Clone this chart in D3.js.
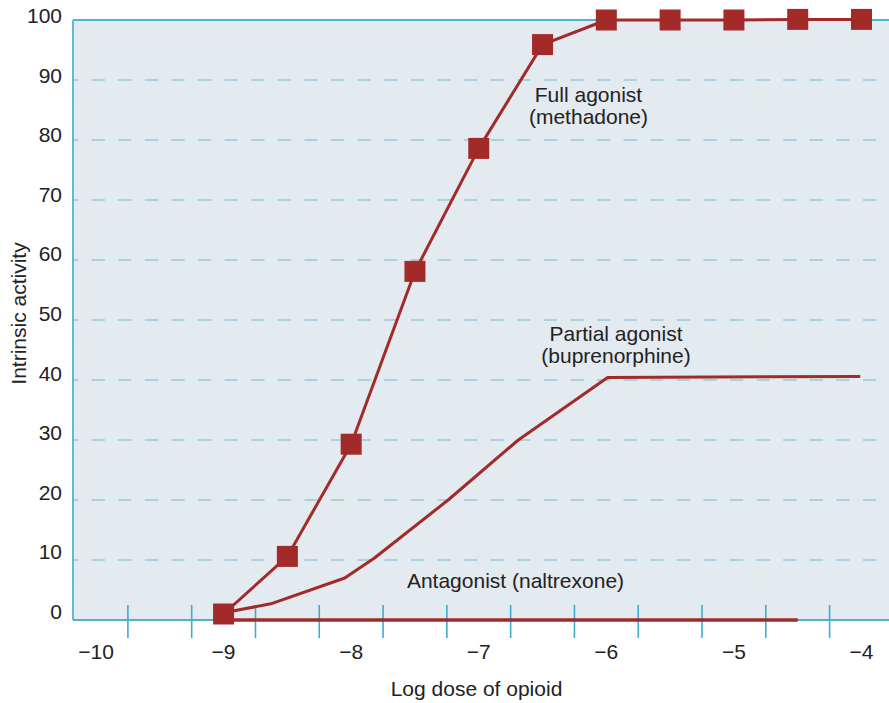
<!DOCTYPE html>
<html>
<head>
<meta charset="utf-8">
<script src="https://cdn.jsdelivr.net/npm/d3@7"></script>
<style>
  body { margin: 0; background: #fff; }
  svg { display: block; font-family: "Liberation Sans", Arial, Helvetica, sans-serif; }
</style>
</head>
<body>
<svg></svg>
<script>
var w = 889;
var h = 703;

// values
var fullDose = [-9, -8.5, -8, -7.5, -7, -6.5, -6, -5.5, -5, -4.5, -4];
var fullActivity = [1, 10.6, 29.3, 58.1, 78.6, 95.9, 100, 100, 100, 100.1, 100.1];

var partialDose = [-9, -8.63, -8.05, -7.82, -7.24, -6.69, -5.99, -4.01];
var partialActivity = [1.2, 2.7, 7, 10.3, 20, 30, 40.4, 40.6];

var antagonistDose = [-9, -4.5];
var antagonistActivity = [0, 0];

var xTickLabels = [-10, -9, -8, -7, -6, -5, -4];
var xTickMarks = [-9.75, -9.25, -8.75, -8.25, -7.75, -7.25, -6.75, -6.25, -5.75, -5.25, -4.75, -4.25];
var yTicks = [0, 10, 20, 30, 40, 50, 60, 70, 80, 90, 100];

var plotLeft = 73, plotTop = 20, plotBottom = 620;
var red = "#a22b2a";
var cyan = "#4fb2cf";

var svg = d3.select("svg")
            .attr("width", w)
            .attr("height", h);

var xScale = d3.scaleLinear()
                .domain([-10, -4])
                .range([96, 861.5]);
var yScale = d3.scaleLinear()
                .domain([0, 100])
                .range([plotBottom, plotTop]);
// tick label baselines sit a little off the grid lines in the original
var yLabelScale = d3.scaleLinear()
                .domain([0, 100])
                .range([619, 23]);

// plot background
svg.append("rect")
    .attr("x", plotLeft)
    .attr("y", plotTop)
    .attr("width", w - plotLeft)
    .attr("height", plotBottom - plotTop)
    .style("fill", "#e3eaf0");

// dashed grid lines
svg.selectAll(".grid")
  .data(yTicks.filter(function(d){ return d > 0 && d < 100; }))
  .join("line")
    .attr("class", "grid")
    .attr("x1", plotLeft)
    .attr("x2", w)
    .attr("y1", function(d){ return yScale(d); })
    .attr("y2", function(d){ return yScale(d); })
    .style("stroke", "#abd2dc")
    .style("stroke-width", 2)
    .style("stroke-dasharray", "13.3,13.3")
    .style("stroke-dashoffset", 8);

// frame: top and left in cyan, bottom is the x axis
svg.append("line")
    .attr("x1", plotLeft).attr("x2", w)
    .attr("y1", plotTop).attr("y2", plotTop)
    .style("stroke", cyan).style("stroke-width", 2);
svg.append("line")
    .attr("x1", plotLeft).attr("x2", plotLeft)
    .attr("y1", plotTop).attr("y2", plotBottom)
    .style("stroke", "#62bad3").style("stroke-width", 2);
svg.append("line")
    .attr("x1", plotLeft).attr("x2", w)
    .attr("y1", plotBottom).attr("y2", plotBottom)
    .style("stroke", cyan).style("stroke-width", 2);

// tick marks crossing the axis (offset from the labels, as in the original)
svg.selectAll(".tickmark")
  .data(xTickMarks)
  .join("line")
    .attr("class", "tickmark")
    .attr("x1", function(d){ return xScale(d); })
    .attr("x2", function(d){ return xScale(d); })
    .attr("y1", 605)
    .attr("y2", 638)
    .style("stroke", "#3aaed2")
    .style("stroke-width", 1.6);

// x tick labels
svg.selectAll(".xlabel")
  .data(xTickLabels)
  .join("text")
    .attr("class", "xlabel")
    .attr("x", function(d){ return xScale(d); })
    .attr("y", 659)
    .attr("text-anchor", "middle")
    .style("font-size", "21px")
    .style("fill", "#222")
    .text(function(d){ return "\u2212" + Math.abs(d); });

// y tick labels
svg.selectAll(".ylabel")
  .data(yTicks)
  .join("text")
    .attr("class", "ylabel")
    .attr("x", 62)
    .attr("y", function(d){ return yLabelScale(d); })
    .attr("text-anchor", "end")
    .style("font-size", "21px")
    .style("fill", "#222")
    .text(function(d){ return d; });

// axis titles
svg.append("text")
    .attr("x", 476.5)
    .attr("y", 696)
    .attr("text-anchor", "middle")
    .style("font-size", "21px")
    .style("fill", "#222")
    .text("Log dose of opioid");

svg.append("text")
    .attr("transform", "translate(26,313.5) rotate(-90)")
    .attr("text-anchor", "middle")
    .style("font-size", "21px")
    .style("fill", "#222")
    .text("Intrinsic activity");

// curves
var line = d3.line()
    .x(function(d){ return xScale(d[0]); })
    .y(function(d){ return yScale(d[1]); });

var antagonist = d3.zip(antagonistDose, antagonistActivity);
var partial = d3.zip(partialDose, partialActivity);
var full = d3.zip(fullDose, fullActivity);

svg.append("path")
    .datum(antagonist)
    .attr("d", line)
    .style("fill", "none")
    .style("stroke", red)
    .style("stroke-width", 3.5);

svg.append("path")
    .datum(partial)
    .attr("d", line)
    .style("fill", "none")
    .style("stroke", red)
    .style("stroke-width", 3)
    .style("stroke-linejoin", "round");

svg.append("path")
    .datum(full)
    .attr("d", line)
    .style("fill", "none")
    .style("stroke", red)
    .style("stroke-width", 3)
    .style("stroke-linejoin", "round");

// square markers on the full agonist
var size = 21;
svg.selectAll(".marker")
  .data(full)
  .join("rect")
    .attr("class", "marker")
    .attr("x", function(d){ return xScale(d[0]) - size / 2; })
    .attr("y", function(d){ return yScale(d[1]) - size / 2; })
    .attr("width", size)
    .attr("height", size)
    .style("fill", red);

// annotations
var notes = [
    { x: 588.5, y: 102, t: "Full agonist" },
    { x: 588.5, y: 124, t: "(methadone)" },
    { x: 616, y: 341, t: "Partial agonist" },
    { x: 616, y: 362.5, t: "(buprenorphine)" },
    { x: 515.5, y: 588, t: "Antagonist (naltrexone)" }
];
svg.selectAll(".note")
  .data(notes)
  .join("text")
    .attr("class", "note")
    .attr("x", function(d){ return d.x; })
    .attr("y", function(d){ return d.y; })
    .attr("text-anchor", "middle")
    .style("font-size", "21px")
    .style("fill", "#222")
    .text(function(d){ return d.t; });
</script>
</body>
</html>
